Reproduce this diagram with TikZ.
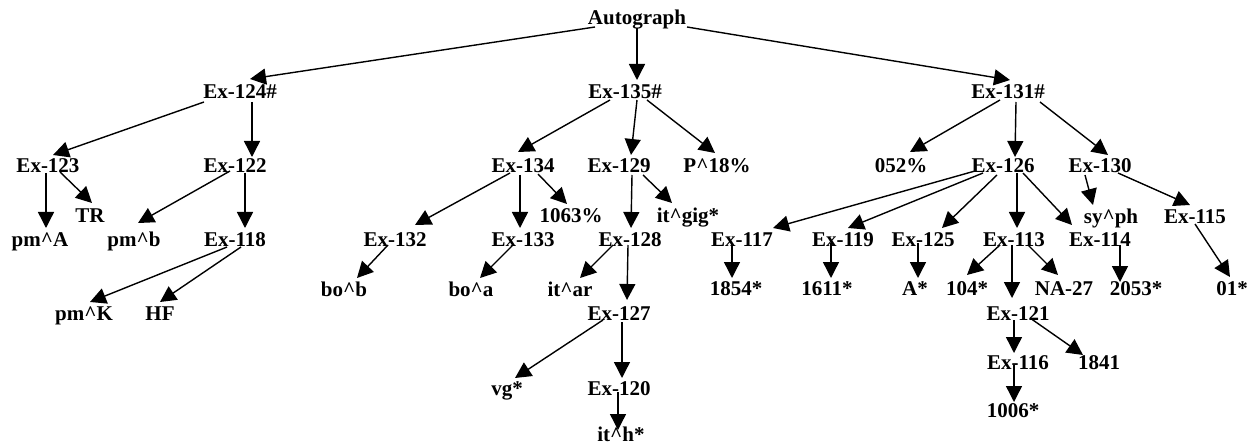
\documentclass[tikz,border=0pt]{standalone}
\usepackage{fontspec}
\setmainfont{Liberation Serif}
\usetikzlibrary{arrows.meta}
\begin{document}
\begin{tikzpicture}[x=0.5pt,y=-0.5pt,
  lbl/.style={inner sep=0pt,outer sep=0pt,anchor=base,font=\fontsize{10.5}{12}\selectfont\bfseries},
  arr/.style={line width=0.7pt,-{Triangle[length=8pt,width=8pt]}}]
\useasboundingbox (0,0) rectangle (1254,444);
% nodes
\node[lbl] (aut) at (637,25) {Autograph};
\node[lbl] (e124) at (240,99) {Ex-124\#};
\node[lbl] (e135) at (625,99) {Ex-135\#};
\node[lbl] (e131) at (1008,99) {Ex-131\#};
\node[lbl] (e123) at (48,173) {Ex-123};
\node[lbl] (e122) at (235,173) {Ex-122};
\node[lbl] (e134) at (523,173) {Ex-134};
\node[lbl] (e129) at (619,173) {Ex-129};
\node[lbl] (p18) at (717,173) {P\textasciicircum18\%};
\node[lbl] (n052) at (901,173) {052\%};
\node[lbl] (e126) at (1003,173) {Ex-126};
\node[lbl] (e130) at (1100,173) {Ex-130};
\node[lbl] (tr) at (90,222) {TR};
\node[lbl] (n1063) at (571,222) {1063\%};
\node[lbl] (itgig) at (688,222) {it\textasciicircum gig*};
\node[lbl] (syph) at (1111,223) {sy\textasciicircum ph};
\node[lbl] (e115) at (1195,223) {Ex-115};
\node[lbl] (pmA) at (40,247) {pm\textasciicircum A};
\node[lbl] (pmb) at (134,247) {pm\textasciicircum b};
\node[lbl] (e118) at (235,247) {Ex-118};
\node[lbl] (e132) at (395,247) {Ex-132};
\node[lbl] (e133) at (523,247) {Ex-133};
\node[lbl] (e128) at (630,247) {Ex-128};
\node[lbl] (e117) at (742,247) {Ex-117};
\node[lbl] (e119) at (843,247) {Ex-119};
\node[lbl] (e125) at (923,247) {Ex-125};
\node[lbl] (e113) at (1014,247) {Ex-113};
\node[lbl] (e114) at (1100,247) {Ex-114};
\node[lbl] (bob) at (344,296) {bo\textasciicircum b};
\node[lbl] (boa) at (471,296) {bo\textasciicircum a};
\node[lbl] (itar) at (570,296) {it\textasciicircum ar};
\node[lbl] (n1854) at (736,295) {1854*};
\node[lbl] (n1611) at (827,295) {1611*};
\node[lbl] (astar) at (915,295) {A*};
\node[lbl] (n104) at (967,295) {104*};
\node[lbl] (na27) at (1064,295) {NA-27};
\node[lbl] (n2053) at (1136,295) {2053*};
\node[lbl] (n01) at (1232,295) {01*};
\node[lbl] (pmK) at (84,320) {pm\textasciicircum K};
\node[lbl] (hf) at (160,320) {HF};
\node[lbl] (e127) at (619,320) {Ex-127};
\node[lbl] (e121) at (1018,320) {Ex-121};
\node[lbl] (vg) at (507,395) {vg*};
\node[lbl] (e120) at (619,395) {Ex-120};
\node[lbl] (e116) at (1018,369) {Ex-116};
\node[lbl] (n1841) at (1099,369) {1841};
\node[lbl] (n1006) at (1013,417) {1006*};
\node[lbl] (ith) at (621,441) {it\textasciicircum h*};
% edges
\draw[arr] ([shift={(-42,2)}]aut.base) -- ([shift={(10,-20)}]e124.base);
\draw[arr] ([shift={(0,3)}]aut.base) -- ([shift={(12,-19)}]e135.base);
\draw[arr] ([shift={(50,2)}]aut.base) -- ([shift={(2,-19)}]e131.base);
\draw[arr] ([shift={(-36,3)}]e124.base) -- ([shift={(5,-18)}]e123.base);
\draw[arr] ([shift={(12,3)}]e124.base) -- ([shift={(17,-16)}]e122.base);
\draw[arr] ([shift={(-2,0)}]e123.base) -- ([shift={(6,-19)}]pmA.base);
\draw[arr] ([shift={(12,-1)}]e123.base) -- ([shift={(2,-19)}]tr.base);
\draw[arr] ([shift={(-5,-2)}]e122.base) -- ([shift={(4,-24)}]pmb.base);
\draw[arr] ([shift={(10,0)}]e122.base) -- ([shift={(10,-19)}]e118.base);
\draw[arr] ([shift={(-8,0)}]e118.base) -- ([shift={(6,-18)}]pmK.base);
\draw[arr] ([shift={(6,0)}]e118.base) -- ([shift={(0,-18)}]hf.base);
\draw[arr] ([shift={(-15,1)}]e135.base) -- ([shift={(-5,-21)}]e134.base);
\draw[arr] ([shift={(12,1)}]e135.base) -- ([shift={(12,-18)}]e129.base);
\draw[arr] ([shift={(22,1)}]e135.base) -- ([shift={(-2,-20)}]p18.base);
\draw[arr] ([shift={(-13,0)}]e134.base) -- ([shift={(20,-22)}]e132.base);
\draw[arr] ([shift={(-3,2)}]e134.base) -- ([shift={(-3,-19)}]e133.base);
\draw[arr] ([shift={(15,1)}]e134.base) -- ([shift={(-4,-18)}]n1063.base);
\draw[arr] ([shift={(13,2)}]e129.base) -- ([shift={(1,-19)}]e128.base);
\draw[arr] ([shift={(24,2)}]e129.base) -- ([shift={(-16,-19)}]itgig.base);
\draw[arr] ([shift={(-7,-2)}]e132.base) -- ([shift={(13,-18)}]bob.base);
\draw[arr] ([shift={(-10,-2)}]e133.base) -- ([shift={(9,-18)}]boa.base);
\draw[arr] ([shift={(-17,-2)}]e128.base) -- ([shift={(10,-18)}]itar.base);
\draw[arr] ([shift={(-2,-2)}]e128.base) -- ([shift={(8,-20)}]e127.base);
\draw[arr] ([shift={(-16,0)}]e127.base) -- ([shift={(8,-17)}]vg.base);
\draw[arr] ([shift={(3,2)}]e127.base) -- ([shift={(3,-17)}]e120.base);
\draw[arr] ([shift={(-1,-3)}]e120.base) -- ([shift={(-3,-11)}]ith.base);
\draw[arr] ([shift={(-8,1)}]e131.base) -- ([shift={(9,-21)}]n052.base);
\draw[arr] ([shift={(8,3)}]e131.base) -- ([shift={(12,-16)}]e126.base);
\draw[arr] ([shift={(32,3)}]e131.base) -- ([shift={(8,-18)}]e130.base);
\draw[arr] ([shift={(-28,-2)}]e126.base) -- ([shift={(31,-19)}]e117.base);
\draw[arr] ([shift={(-20,0)}]e126.base) -- ([shift={(5,-19)}]e119.base);
\draw[arr] ([shift={(-6,2)}]e126.base) -- ([shift={(19,-19)}]e125.base);
\draw[arr] ([shift={(14,0)}]e126.base) -- ([shift={(3,-19)}]e113.base);
\draw[arr] ([shift={(20,0)}]e126.base) -- ([shift={(-28,-22)}]e114.base);
\draw[arr] ([shift={(-15,2)}]e130.base) -- ([shift={(-18,-18)}]syph.base);
\draw[arr] ([shift={(18,0)}]e130.base) -- ([shift={(-5,-18)}]e115.base);
\draw[arr] ([shift={(-14,-2)}]e113.base) -- ([shift={(0,-20)}]n104.base);
\draw[arr] ([shift={(-2,-2)}]e113.base) -- ([shift={(-6,-22)}]e121.base);
\draw[arr] ([shift={(14,-2)}]e113.base) -- ([shift={(-6,-20)}]na27.base);
\draw[arr] ([shift={(20,-2)}]e114.base) -- ([shift={(-16,-13)}]n2053.base);
\draw[arr] ([shift={(0,1)}]e115.base) -- ([shift={(-2,-18)}]n01.base);
\draw[arr] ([shift={(-10,-4)}]e117.base) -- ([shift={(-4,-17)}]n1854.base);
\draw[arr] ([shift={(-12,-4)}]e119.base) -- ([shift={(4,-17)}]n1611.base);
\draw[arr] ([shift={(-5,-4)}]e125.base) -- ([shift={(3,-17)}]astar.base);
\draw[arr] ([shift={(-4,0)}]e121.base) -- ([shift={(-4,-16)}]e116.base);
\draw[arr] ([shift={(12,-2)}]e121.base) -- ([shift={(-16,-14)}]n1841.base);
\draw[arr] ([shift={(-4,-4)}]e116.base) -- ([shift={(1,-15)}]n1006.base);
\end{tikzpicture}
\end{document}
